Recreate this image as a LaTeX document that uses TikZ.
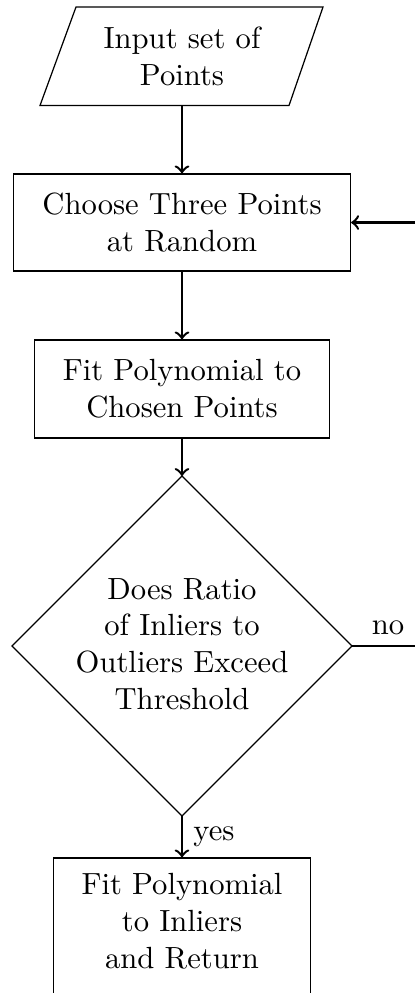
\documentclass[tikz,border=0pt]{standalone}
\usetikzlibrary{positioning}
\begin{document}
\begin{tikzpicture}[x=0.3264pt,y=-0.3264pt,
  boxnode/.style={draw, thin, align=center, inner sep=0pt},
  txt/.style={align=center, inner sep=3.33pt},
  flow/.style={->, thick},
  lbl/.style={inner sep=3.33pt}]
\useasboundingbox (0,0) rectangle (415,993);
\clip (0,0) rectangle (415,993);
% input parallelogram
\draw[thin] (76,7) -- (323,7) -- (289,105.5) -- (40,105.5) -- cycle;
\node[txt] (inp) at (182,56) {Input set of\\Points};
\coordinate (inpb) at (182,105.5);
% choose
\node[boxnode, minimum width=337*0.3264pt, minimum height=97*0.3264pt] (choose) at (182,222.5) {Choose Three Points\\at Random};
% fit
\node[boxnode, minimum width=295.5*0.3264pt, minimum height=98*0.3264pt] (fit) at (182,389) {Fit Polynomial to\\Chosen Points};
% decision diamond
\coordinate (dtop) at (182,476);
\coordinate (dleft) at (12,646);
\coordinate (dright) at (352,646);
\coordinate (dbot) at (182,816);
\draw[thin] (dtop) -- (dright) -- (dbot) -- (dleft) -- cycle;
\node[txt] (dec) at (182,644) {Does Ratio\\of Inliers to\\Outliers Exceed\\Threshold};
% return box
\node[draw, thin, minimum width=257.7*0.3264pt, minimum height=139*0.3264pt, inner sep=0pt] (ret) at (182,927.5) {};
\node[txt] (rettxt) at (182,921) {Fit Polynomial\\to Inliers\\and Return};
% connectors
\draw[flow] (inpb) -- (choose.north);
\draw[flow] (choose.south) -- (fit.north);
\draw[flow] (fit.south) -- (dtop);
\draw[flow] (dbot) -- node[lbl, right] (yes) {yes} (ret.north);
\coordinate (loopc) at (424,646);
\draw[flow] (dright) -- node[lbl, above] (no) {no} (loopc) |- (choose.east);
\end{tikzpicture}
\end{document}
